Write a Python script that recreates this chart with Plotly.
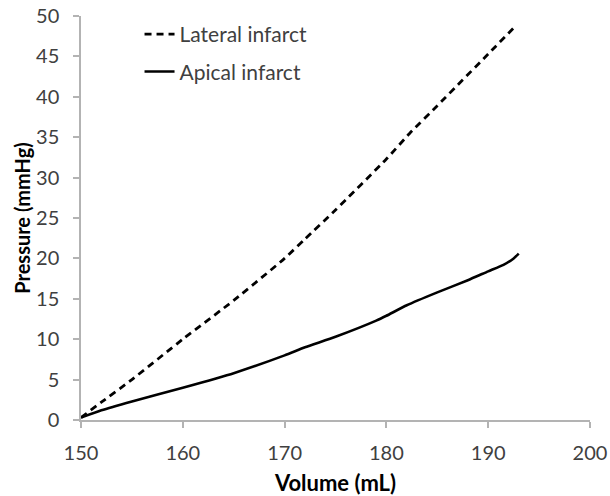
import plotly.graph_objects as go

# Pressure–volume relationships (volume in mL, pressure in mmHg)
lateral_volume = [150, 152, 155, 160, 165, 170, 172, 175, 180, 182.3, 185, 190, 192.8]
lateral_pressure = [0.3, 2.2, 5.0, 10.0, 14.8, 20.0, 22.4, 26.0, 32.3, 35.5, 38.9, 45.3, 48.9]

apical_volume = [150, 152, 155, 160, 165, 170, 172, 175, 179, 180, 182, 185, 188, 190, 191.5, 192.5, 193]
apical_pressure = [0.3, 1.2, 2.3, 4.0, 5.8, 8.0, 9.0, 10.3, 12.3, 12.9, 14.2, 15.8, 17.3, 18.4, 19.2, 20.0, 20.6]

x_ticks = [150, 160, 170, 180, 190, 200]
y_ticks = [0, 5, 10, 15, 20, 25, 30, 35, 40, 45, 50]

FONT = "Lato"
TEXT = "#404040"
AXIS = "#b3b3b3"

fig = go.Figure()
fig.add_trace(go.Scatter(
    x=lateral_volume, y=lateral_pressure, mode="lines", name="Lateral infarct",
    legendgroup="a",
    line=dict(color="black", width=2.8, dash="7px,5px", shape="spline", smoothing=0.5),
))
fig.add_trace(go.Scatter(
    x=apical_volume, y=apical_pressure, mode="lines", name="Apical infarct",
    legendgroup="b",
    line=dict(color="black", width=2.6, shape="spline", smoothing=0.5),
))

fig.update_layout(
    width=610, height=496,
    margin=dict(l=81, r=20, t=16, b=76, autoexpand=False),
    paper_bgcolor="white", plot_bgcolor="white",
    font=dict(family=FONT, size=21, color=TEXT),
    showlegend=True,
    legend=dict(
        x=0.115, y=1.005, xanchor="left", yanchor="top",
        bgcolor="rgba(0,0,0,0)", traceorder="grouped", tracegroupgap=7,
        font=dict(family=FONT, size=21, color=TEXT),
        itemwidth=30,
    ),
)
fig.update_xaxes(
    range=[150, 200], tickvals=x_ticks, showgrid=False, zeroline=False,
    showline=True, linecolor=AXIS, linewidth=1.5, automargin=False,
    ticks="outside", ticklen=6, tickcolor=AXIS, tickwidth=1.5,
    ticklabelstandoff=8,
    tickfont=dict(family=FONT, size=20, color=TEXT),
    title=dict(text="<b>Volume (mL)</b>", standoff=14,
               font=dict(family=FONT, size=22, color="black")),
)
fig.update_yaxes(
    range=[0, 50], tickvals=y_ticks, showgrid=False, zeroline=False,
    showline=True, linecolor=AXIS, linewidth=1.5, automargin=False,
    ticks="outside", ticklen=6, tickcolor=AXIS, tickwidth=1.5,
    ticklabelstandoff=10,
    tickfont=dict(family=FONT, size=20, color=TEXT),
    title=dict(text="<b>Pressure (mmHg)</b>", standoff=0,
               font=dict(family=FONT, size=20, color="black")),
)

fig.write_html("out.html")
